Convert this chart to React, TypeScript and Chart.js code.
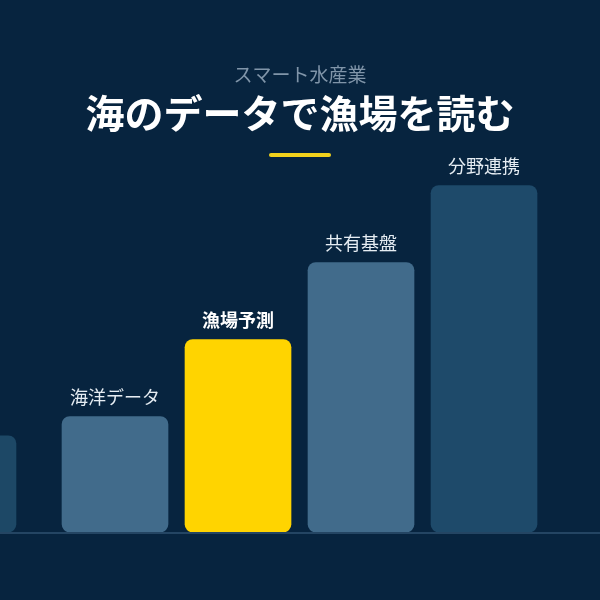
import React, { useEffect, useRef } from "react";
import { Chart, registerables } from "chart.js";

Chart.register(...registerables);

const subtitleText = "スマート水産業";
const titleText = "海のデータで漁場を読む";
const categories = ["", "海洋データ", "漁場予測", "共有基盤", "分野連携"];
const positions = [-1.236, 0, 1, 2, 3];
const values = [25, 30, 50, 70, 90];
const barColors = ["#1d4866", "#416b8b", "#ffd400", "#416b8b", "#1e4a6a"];
const highlightIndex = 2;

const BG = "#07243f";
const FONT = "'Noto Sans CJK JP', 'Noto Sans', sans-serif";

const decorPlugin = {
  id: "decor",
  beforeDraw(chart: any) {
    const { ctx, width, height } = chart;
    ctx.save();
    ctx.fillStyle = BG;
    ctx.fillRect(0, 0, width, height);
    ctx.textAlign = "center";
    ctx.textBaseline = "middle";
    ctx.fillStyle = "#8095a9";
    ctx.font = `400 19px ${FONT}`;
    ctx.fillText(subtitleText, width / 2, 75);
    ctx.fillStyle = "#ffffff";
    ctx.font = `700 39px ${FONT}`;
    ctx.fillText(titleText, width / 2, 113);
    ctx.fillStyle = "#f2d21c";
    ctx.beginPath();
    (ctx as any).roundRect(269, 153, 62, 4, 2);
    ctx.fill();
    ctx.restore();
  },
  afterDatasetsDraw(chart: any) {
    const { ctx, width } = chart;
    const meta = chart.getDatasetMeta(0);
    const yBase = chart.scales.y.getPixelForValue(0);
    ctx.save();
    ctx.strokeStyle = "#2f5170";
    ctx.lineWidth = 1.5;
    ctx.beginPath();
    ctx.moveTo(0, yBase + 1);
    ctx.lineTo(width, yBase + 1);
    ctx.stroke();
    ctx.textAlign = "center";
    ctx.textBaseline = "alphabetic";
    meta.data.forEach((bar: any, i: number) => {
      const label = categories[i];
      if (!label) return;
      ctx.fillStyle = i === highlightIndex ? "#ffffff" : "#e6edf3";
      ctx.font = `${i === highlightIndex ? 700 : 400} 18px ${FONT}`;
      ctx.fillText(label, bar.x, bar.y - 13);
    });
    ctx.restore();
  },
};

export default function App() {
  const ref = useRef<HTMLCanvasElement>(null);
  useEffect(() => {
    document.body.style.margin = "0";
    const chart = new Chart(ref.current!, {
      type: "bar",
      data: {
        datasets: [
          {
            data: positions.map((p, i) => ({ x: p, y: values[i] })),
            backgroundColor: barColors,
            borderRadius: 8,
            borderSkipped: false,
            barThickness: 106,
          },
        ],
      },
      options: {
        animation: false,
        responsive: false,
        layout: { padding: { top: 147, bottom: 68, left: 0, right: 0 } },
        plugins: { legend: { display: false }, tooltip: { enabled: false } },
        scales: {
          x: {
            type: "linear",
            min: -0.935,
            max: 3.943,
            display: false,
            offset: false,
          },
          y: { min: 0, max: 100, display: false },
        },
      },
      plugins: [decorPlugin],
    });
    return () => chart.destroy();
  }, []);
  return (
    <div style={{ position: "absolute", left: 0, top: 0, width: 600, height: 600 }}>
      <canvas ref={ref} width={600} height={600} style={{ display: "block" }} />
    </div>
  );
}
